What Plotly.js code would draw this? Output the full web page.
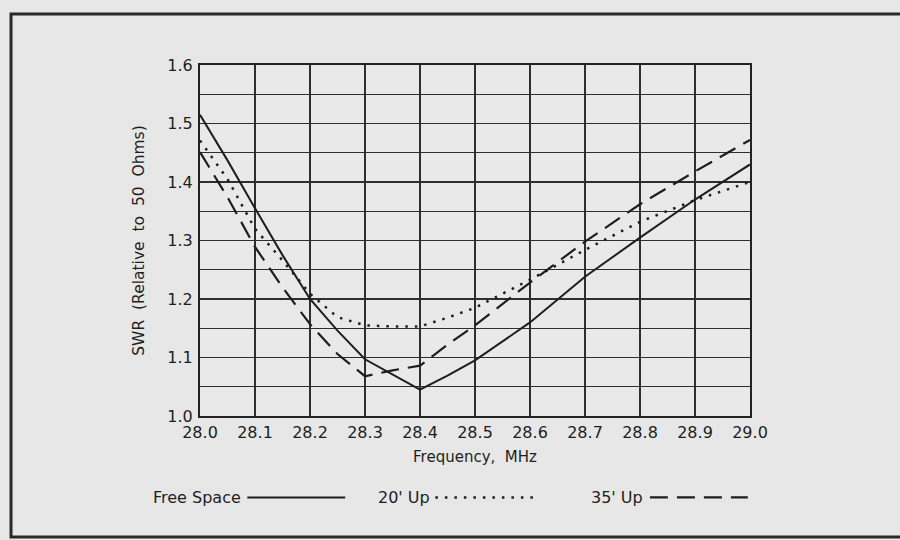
<!DOCTYPE html>
<html>
<head>
<meta charset="utf-8">
<script src="https://cdn.plot.ly/plotly-3.0.1.min.js"></script>
<style>
  html, body { margin: 0; padding: 0; background: #e7e7e7; }
  #chart { width: 900px; height: 540px; }
</style>
</head>
<body>
<div id="chart"></div>
<script>
// Frequency (MHz) at which SWR was read
const freq = [28.0, 28.05, 28.1, 28.15, 28.2, 28.25, 28.3, 28.35, 28.4, 28.45, 28.5, 28.6, 28.7, 28.8, 28.9, 29.0];
// SWR relative to 50 ohms
const freeSpace = [1.515, 1.437, 1.355, 1.275, 1.200, 1.146, 1.097, 1.071, 1.045, 1.069, 1.095, 1.160, 1.238, 1.305, 1.370, 1.430];
const up20 = [1.471, 1.405, 1.320, 1.266, 1.209, 1.169, 1.155, 1.153, 1.153, 1.168, 1.185, 1.233, 1.284, 1.332, 1.369, 1.400];
const up35 = [1.451, 1.374, 1.289, 1.220, 1.157, 1.106, 1.068, 1.078, 1.086, 1.122, 1.155, 1.228, 1.298, 1.362, 1.418, 1.472];
const seriesNames = ["Free Space", "20' Up", "35' Up"];
const xTitle = "Frequency,  MHz";
const yTitle = "SWR  (Relative  to  50  Ohms)";

const ink = '#1e1e1e';
const font = "'DejaVu Sans', Verdana, sans-serif";
const dashes = ['solid', '2.5px,7px', '18px,9px'];
const widths = [2, 2.5, 2.2];

const allY = [freeSpace, up20, up35];
const traces = allY.map((ys, i) => ({
  type: 'scatter', mode: 'lines', name: seriesNames[i],
  x: freq, y: ys,
  line: { color: ink, width: widths[i], dash: dashes[i] },
  showlegend: false, hoverinfo: 'skip'
}));

// custom legend: label first, then line sample (as in the original)
const legendY = -0.232;
const legendText = [0.079, 0.422, 0.809];
const legendLine = [[0.086, 0.264], [0.428, 0.618], [0.818, 0.996]];

const annotations = seriesNames.map((n, i) => ({
  xref: 'paper', yref: 'paper', x: legendText[i], y: legendY,
  xanchor: 'right', yanchor: 'middle', text: n, showarrow: false,
  font: { family: font, size: 16, color: ink }
}));

const shapes = seriesNames.map((n, i) => ({
  type: 'line', xref: 'paper', yref: 'paper',
  x0: legendLine[i][0], x1: legendLine[i][1], y0: legendY, y1: legendY,
  line: { color: ink, width: widths[i], dash: dashes[i] }
}));
// outer figure frame
shapes.push({
  type: 'rect', xref: 'paper', yref: 'paper',
  x0: -0.3436, x1: 1.4, y0: -0.345, y1: 1.145,
  line: { color: '#2a2a2a', width: 3 }
});

const layout = {
  width: 900, height: 540,
  margin: { l: 200, r: 150, t: 65, b: 124 },
  paper_bgcolor: '#e7e7e7', plot_bgcolor: '#e9e9e9',
  font: { family: font, color: ink },
  xaxis: {
    range: [28.0, 29.0], dtick: 0.1, tick0: 28.0, tickformat: '.1f',
    showgrid: true, gridcolor: '#2e2e2e', gridwidth: 1.4,
    zeroline: false, showline: true, linecolor: '#222', linewidth: 2, mirror: true,
    ticks: '', ticklabelstandoff: 1,
    tickfont: { family: font, size: 16, color: ink },
    title: { text: xTitle, standoff: 10, font: { family: font, size: 15, color: ink } },
    automargin: false, fixedrange: true
  },
  yaxis: {
    range: [1.0, 1.6], dtick: 0.1, tick0: 1.0, tickformat: '.1f',
    showgrid: true, gridcolor: '#2e2e2e', gridwidth: 1.4,
    minor: { dtick: 0.05, showgrid: true, gridcolor: '#2e2e2e', gridwidth: 1.4 },
    zeroline: false, showline: true, linecolor: '#222', linewidth: 2, mirror: true,
    ticks: '', ticklabelstandoff: 2,
    tickfont: { family: font, size: 16, color: ink },
    title: { text: yTitle, standoff: 19, font: { family: font, size: 15.5, color: ink } },
    automargin: false, fixedrange: true
  },
  annotations: annotations,
  shapes: shapes,
  showlegend: false
};

Plotly.newPlot('chart', traces, layout, { staticPlot: true, displayModeBar: false });
</script>
</body>
</html>
